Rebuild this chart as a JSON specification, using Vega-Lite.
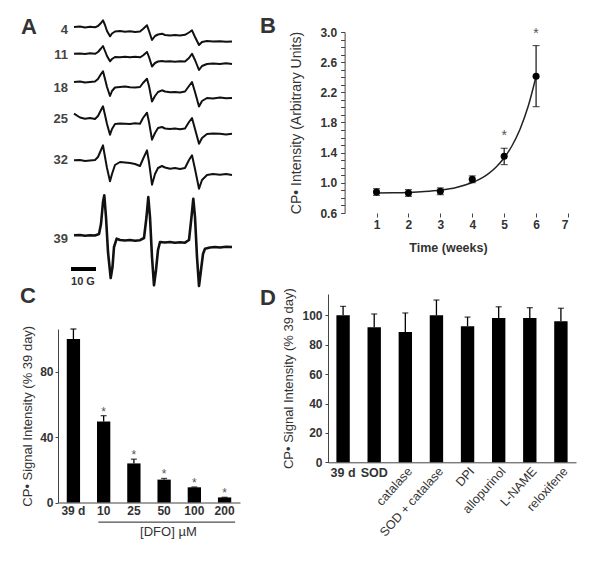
{
"$schema": "https://vega.github.io/schema/vega-lite/v6.json",
"background": "white",
"padding": {"left": 20, "top": 15, "right": 5, "bottom": 5},
"config": {
  "font": "Liberation Sans",
  "view": {"stroke": null},
  "axis": {"labelFont": "Liberation Sans", "labelFontWeight": "bold", "labelFontSize": 12, "labelColor": "#333", "titleFont": "Liberation Sans", "titleFontWeight": "normal", "titleFontSize": 13, "titleColor": "#333", "domainColor": "#444", "tickColor": "#444", "grid": false, "labelOverlap": false},
  "title": {"anchor": "start", "frame": "group", "fontSize": 22, "fontWeight": "bold", "color": "#333", "baseline": "alphabetic"},
  "text": {"font": "Liberation Sans"}
},
"spacing": 20,
"hconcat": [
 {"spacing": -3, "vconcat": [
  {"width": 182, "height": 250,
   "title": {"text": "A", "dx": -37, "offset": -3, "dy": 17},
   "encoding": {
     "x": {"field": "g", "type": "quantitative", "scale": {"domain": [-6.4, 66.4], "nice": false, "zero": false}, "axis": null},
     "y": {"field": "v", "type": "quantitative", "scale": {"domain": [20, 270], "nice": false, "zero": false}, "axis": null}
   },
   "layer": [
    {"data": {"values": [
{"day":"4","g":0,"v":275},{"day":"4","g":2.4,"v":275.5},{"day":"4","g":4.4,"v":274.5},{"day":"4","g":6.4,"v":275.2},{"day":"4","g":8.4,"v":274.7},{"day":"4","g":9.6,"v":276},{"day":"4","g":10.8,"v":279},{"day":"4","g":11.6,"v":281.7},{"day":"4","g":12.4,"v":277},{"day":"4","g":13.2,"v":271},{"day":"4","g":14.4,"v":265.7},{"day":"4","g":15.2,"v":268.5},{"day":"4","g":16.4,"v":270.5},{"day":"4","g":18.4,"v":271},{"day":"4","g":20.4,"v":270.2},{"day":"4","g":22.4,"v":270.8},{"day":"4","g":24.4,"v":270},{"day":"4","g":26.4,"v":270.5},{"day":"4","g":27.6,"v":273},{"day":"4","g":29.2,"v":276.7},{"day":"4","g":30,"v":271},{"day":"4","g":31.2,"v":262},{"day":"4","g":32.4,"v":266},{"day":"4","g":33.6,"v":267.5},{"day":"4","g":35.2,"v":268.3},{"day":"4","g":36.4,"v":267},{"day":"4","g":38.4,"v":266.5},{"day":"4","g":40.4,"v":267},{"day":"4","g":42.4,"v":266.5},{"day":"4","g":44.4,"v":267.2},{"day":"4","g":46,"v":269.5},{"day":"4","g":47.2,"v":271.7},{"day":"4","g":48.4,"v":265},{"day":"4","g":50,"v":257},{"day":"4","g":51.2,"v":260},{"day":"4","g":53.2,"v":261},{"day":"4","g":55.6,"v":260.5},{"day":"4","g":58.4,"v":260.8},{"day":"4","g":60.8,"v":260.2},{"day":"4","g":63.2,"v":260.5},
{"day":"11","g":0,"v":248.3},{"day":"11","g":2.4,"v":248.5},{"day":"11","g":4.4,"v":248},{"day":"11","g":6.4,"v":248.7},{"day":"11","g":8.4,"v":248.2},{"day":"11","g":9.6,"v":250},{"day":"11","g":10.8,"v":253.5},{"day":"11","g":11.6,"v":256},{"day":"11","g":12.4,"v":251},{"day":"11","g":13.2,"v":246},{"day":"11","g":14.4,"v":240.7},{"day":"11","g":15.2,"v":243},{"day":"11","g":16.4,"v":245},{"day":"11","g":18.4,"v":244.7},{"day":"11","g":20.4,"v":245.3},{"day":"11","g":22.4,"v":244.8},{"day":"11","g":24.4,"v":245.2},{"day":"11","g":26.4,"v":244.7},{"day":"11","g":27.6,"v":246.5},{"day":"11","g":29.2,"v":250},{"day":"11","g":30,"v":245},{"day":"11","g":31.2,"v":235.5},{"day":"11","g":32.4,"v":239},{"day":"11","g":33.6,"v":240.5},{"day":"11","g":35.2,"v":241},{"day":"11","g":36.4,"v":240.5},{"day":"11","g":38.4,"v":240.8},{"day":"11","g":40.4,"v":240.2},{"day":"11","g":42.4,"v":240.7},{"day":"11","g":44.4,"v":240.5},{"day":"11","g":46,"v":244},{"day":"11","g":47.2,"v":248.3},{"day":"11","g":48.4,"v":242},{"day":"11","g":50,"v":232},{"day":"11","g":51.2,"v":236},{"day":"11","g":53.2,"v":238},{"day":"11","g":55.6,"v":238.5},{"day":"11","g":58.4,"v":238},{"day":"11","g":60.8,"v":238.7},{"day":"11","g":63.2,"v":238},
{"day":"18","g":0,"v":220},{"day":"18","g":2.4,"v":220.5},{"day":"18","g":4.4,"v":219.5},{"day":"18","g":6.4,"v":220},{"day":"18","g":8.4,"v":220.5},{"day":"18","g":9.6,"v":223},{"day":"18","g":10.8,"v":228},{"day":"18","g":11.6,"v":230.7},{"day":"18","g":12.4,"v":223},{"day":"18","g":13.2,"v":215},{"day":"18","g":14.4,"v":206},{"day":"18","g":15.2,"v":211},{"day":"18","g":16.4,"v":214.5},{"day":"18","g":18.4,"v":215},{"day":"18","g":20.4,"v":215.5},{"day":"18","g":22.4,"v":214.7},{"day":"18","g":24.4,"v":214.5},{"day":"18","g":26.4,"v":215},{"day":"18","g":27.6,"v":219},{"day":"18","g":29.2,"v":223.3},{"day":"18","g":30,"v":216},{"day":"18","g":31.2,"v":200.5},{"day":"18","g":32.4,"v":206},{"day":"18","g":33.6,"v":210},{"day":"18","g":35.2,"v":211.7},{"day":"18","g":36.4,"v":210.5},{"day":"18","g":38.4,"v":209.7},{"day":"18","g":40.4,"v":210},{"day":"18","g":42.4,"v":209.5},{"day":"18","g":44.4,"v":210.5},{"day":"18","g":46,"v":216},{"day":"18","g":47.2,"v":220},{"day":"18","g":48.4,"v":210},{"day":"18","g":50,"v":195.5},{"day":"18","g":51.2,"v":201},{"day":"18","g":53.2,"v":204},{"day":"18","g":55.6,"v":203.5},{"day":"18","g":58.4,"v":204.5},{"day":"18","g":60.8,"v":203.7},{"day":"18","g":63.2,"v":204},
{"day":"25","g":0,"v":188.3},{"day":"25","g":2.4,"v":184.5},{"day":"25","g":4.4,"v":183.3},{"day":"25","g":6.4,"v":184},{"day":"25","g":8.4,"v":183},{"day":"25","g":9.6,"v":186},{"day":"25","g":10.8,"v":192},{"day":"25","g":11.6,"v":195.7},{"day":"25","g":12.4,"v":187},{"day":"25","g":13.2,"v":178},{"day":"25","g":14.4,"v":167.3},{"day":"25","g":15.2,"v":173},{"day":"25","g":16.4,"v":178},{"day":"25","g":18.4,"v":178.5},{"day":"25","g":20.4,"v":178.3},{"day":"25","g":22.4,"v":178},{"day":"25","g":24.4,"v":178.7},{"day":"25","g":26.4,"v":178.3},{"day":"25","g":27.6,"v":184},{"day":"25","g":29.2,"v":189.3},{"day":"25","g":30,"v":180},{"day":"25","g":31.2,"v":162.3},{"day":"25","g":32.4,"v":169},{"day":"25","g":33.6,"v":174},{"day":"25","g":35.2,"v":175},{"day":"25","g":36.4,"v":173.5},{"day":"25","g":38.4,"v":173},{"day":"25","g":40.4,"v":173.5},{"day":"25","g":42.4,"v":172.8},{"day":"25","g":44.4,"v":173.5},{"day":"25","g":46,"v":180},{"day":"25","g":47.2,"v":184},{"day":"25","g":48.4,"v":173},{"day":"25","g":50,"v":158.3},{"day":"25","g":51.2,"v":164},{"day":"25","g":53.2,"v":168},{"day":"25","g":55.6,"v":168.5},{"day":"25","g":58.4,"v":168.3},{"day":"25","g":60.8,"v":167.5},{"day":"25","g":63.2,"v":168.3},
{"day":"32","g":0,"v":141.7},{"day":"32","g":2.4,"v":142},{"day":"32","g":4.4,"v":141},{"day":"32","g":6.4,"v":141.5},{"day":"32","g":8.4,"v":142},{"day":"32","g":9.6,"v":145},{"day":"32","g":10.8,"v":152},{"day":"32","g":11.6,"v":156.7},{"day":"32","g":12.4,"v":145},{"day":"32","g":13.2,"v":134},{"day":"32","g":14.4,"v":120.7},{"day":"32","g":15.2,"v":128},{"day":"32","g":16.4,"v":137},{"day":"32","g":18.4,"v":140},{"day":"32","g":20.4,"v":139.5},{"day":"32","g":22.4,"v":139},{"day":"32","g":24.4,"v":138},{"day":"32","g":26.4,"v":136},{"day":"32","g":27.6,"v":143},{"day":"32","g":29.2,"v":151.7},{"day":"32","g":30,"v":140},{"day":"32","g":31.2,"v":117.3},{"day":"32","g":32.4,"v":128},{"day":"32","g":33.6,"v":134},{"day":"32","g":35.2,"v":136},{"day":"32","g":36.4,"v":134.5},{"day":"32","g":38.4,"v":133.3},{"day":"32","g":40.4,"v":134},{"day":"32","g":42.4,"v":133},{"day":"32","g":44.4,"v":134},{"day":"32","g":46,"v":142},{"day":"32","g":47.2,"v":146.7},{"day":"32","g":48.4,"v":133},{"day":"32","g":50,"v":113.3},{"day":"32","g":51.2,"v":122},{"day":"32","g":53.2,"v":127},{"day":"32","g":55.6,"v":128},{"day":"32","g":58.4,"v":127.3},{"day":"32","g":60.8,"v":128},{"day":"32","g":63.2,"v":127},
{"day":"39","g":0,"v":66.7},{"day":"39","g":2.4,"v":67},{"day":"39","g":4.4,"v":66.3},{"day":"39","g":6.4,"v":66.8},{"day":"39","g":8.4,"v":66.5},{"day":"39","g":10,"v":68},{"day":"39","g":10.8,"v":78},{"day":"39","g":11.6,"v":100},{"day":"39","g":12.12,"v":106.7},{"day":"39","g":12.8,"v":85},{"day":"39","g":13.6,"v":50},{"day":"39","g":14.68,"v":24},{"day":"39","g":15.4,"v":35},{"day":"39","g":16,"v":55},{"day":"39","g":17.08,"v":63.3},{"day":"39","g":18.4,"v":62},{"day":"39","g":20.4,"v":61.5},{"day":"39","g":22.4,"v":62},{"day":"39","g":24.4,"v":61.3},{"day":"39","g":26.4,"v":61.8},{"day":"39","g":28,"v":64},{"day":"39","g":29,"v":85},{"day":"39","g":29.72,"v":105},{"day":"39","g":30.4,"v":85},{"day":"39","g":31.2,"v":45},{"day":"39","g":32,"v":16.7},{"day":"39","g":32.8,"v":32},{"day":"39","g":33.6,"v":52},{"day":"39","g":34.4,"v":60},{"day":"39","g":36.4,"v":59.5},{"day":"39","g":38.4,"v":60},{"day":"39","g":40.4,"v":59.2},{"day":"39","g":42.4,"v":59.7},{"day":"39","g":44.4,"v":59.3},{"day":"39","g":46,"v":62},{"day":"39","g":47,"v":85},{"day":"39","g":47.72,"v":103.3},{"day":"39","g":48.4,"v":85},{"day":"39","g":49.2,"v":45},{"day":"39","g":50,"v":16},{"day":"39","g":50.8,"v":32},{"day":"39","g":51.6,"v":48},{"day":"39","g":52.4,"v":53.3},{"day":"39","g":54.4,"v":54.5},{"day":"39","g":56.4,"v":55},{"day":"39","g":58.4,"v":54.5},{"day":"39","g":60.8,"v":55.2},{"day":"39","g":63.2,"v":55}
     ]},
     "mark": {"type": "line", "color": "#111", "strokeJoin": "round"},
     "encoding": {"detail": {"field": "day", "type": "nominal"},
                  "strokeWidth": {"condition": {"test": "datum.day == '39'", "value": 2.6}, "value": 2}}},
    {"data": {"values": [
      {"g": -2.4, "v": 272, "label": "4"}, {"g": -2.4, "v": 247, "label": "11"}, {"g": -2.4, "v": 214, "label": "18"},
      {"g": -2.4, "v": 183, "label": "25"}, {"g": -2.4, "v": 142, "label": "32"}, {"g": -2.4, "v": 63, "label": "39"}]},
     "mark": {"type": "text", "align": "right", "baseline": "middle", "fontSize": 13, "fontWeight": "bold", "color": "#444"},
     "encoding": {"text": {"field": "label"}}},
    {"data": {"values": [{"g": -1.2, "g2": 8.8, "v": 33}]},
     "mark": {"type": "rule", "color": "#000", "strokeWidth": 4},
     "encoding": {"x2": {"field": "g2"}}},
    {"data": {"values": [{"g": 3.6, "v": 20, "label": "10 G"}]},
     "mark": {"type": "text", "align": "center", "baseline": "middle", "fontSize": 11, "fontWeight": "bold", "color": "#333"},
     "encoding": {"text": {"field": "label"}}}
   ]
  },
  {"width": 182, "height": 173.5,
   "title": {"text": "C", "dx": -38, "offset": 21.5, "dy": 4.5},
   "data": {"values": [
     {"cond": "39 d", "mean": 100, "hi": 106.1, "sig": ""},
     {"cond": "10", "mean": 49.6, "hi": 53.1, "sig": "*"},
     {"cond": "25", "mean": 23.9, "hi": 26.5, "sig": "*"},
     {"cond": "50", "mean": 14, "hi": 14.7, "sig": "*"},
     {"cond": "100", "mean": 9.3, "hi": 9.5, "sig": "*"},
     {"cond": "200", "mean": 3.1, "hi": 3.2, "sig": "*"}]},
   "resolve": {"scale": {"x": "independent"}},
   "layer": [
    {"encoding": {
       "x": {"field": "cond", "type": "nominal", "sort": null, "scale": {"paddingInner": 0.56, "paddingOuter": 0.29},
             "axis": {"labelAngle": 0, "ticks": false, "title": null, "labelPadding": 3}},
       "y": {"field": "mean", "type": "quantitative", "scale": {"domain": [0, 106.1], "nice": false},
             "axis": {"values": [0, 20, 40, 60, 80, 100], "tickSize": 3, "labelPadding": 2, "title": "CP• Signal Intensity (% 39 day)", "titlePadding": 5}}
     },
     "layer": [
       {"mark": {"type": "bar", "color": "#000"}},
       {"mark": {"type": "rule", "color": "#000", "strokeWidth": 1.3}, "encoding": {"y2": {"field": "hi"}}},
       {"mark": {"type": "tick", "orient": "horizontal", "size": 6, "thickness": 1.3, "color": "#000"}, "encoding": {"y": {"field": "hi", "type": "quantitative"}}},
       {"transform": [{"filter": "datum.sig != ''"}],
        "mark": {"type": "text", "baseline": "alphabetic", "fontSize": 12, "color": "#555"},
        "encoding": {"y": {"field": "hi", "type": "quantitative"}, "text": {"field": "sig"}}}
     ]},
    {"data": {"values": [{}]},
     "mark": {"type": "rule", "color": "#222", "strokeWidth": 1},
     "encoding": {"x": {"datum": 1.33, "type": "quantitative", "scale": {"domain": [0, 6], "nice": false, "zero": false}, "axis": null},
                  "x2": {"datum": 5.84}, "y": {"datum": -12}}},
    {"data": {"values": [{"label": "[DFO] µM"}]},
     "mark": {"type": "text", "align": "center", "baseline": "middle", "fontSize": 13, "color": "#333"},
     "encoding": {"x": {"datum": 3.64, "type": "quantitative", "scale": {"domain": [0, 6], "nice": false, "zero": false}, "axis": null},
                  "y": {"datum": -18.2}, "text": {"field": "label"}}}
   ]
  }
 ]},
 {"spacing": 33, "vconcat": [
  {"width": 240, "height": 181,
   "title": {"text": "B", "dx": -68, "offset": -3, "dy": 9.3},
   "data": {"values": [
     {"week": 1, "mean": 0.878, "lo": 0.833, "hi": 0.923, "sig": ""},
     {"week": 2, "mean": 0.865, "lo": 0.82, "hi": 0.91, "sig": ""},
     {"week": 3, "mean": 0.888, "lo": 0.843, "hi": 0.933, "sig": ""},
     {"week": 4, "mean": 1.047, "lo": 1.002, "hi": 1.092, "sig": ""},
     {"week": 5, "mean": 1.352, "lo": 1.242, "hi": 1.458, "sig": "*"},
     {"week": 6, "mean": 2.413, "lo": 2.01, "hi": 2.82, "sig": "*"}]},
   "encoding": {
     "x": {"field": "week", "type": "quantitative", "scale": {"domain": [-0.52, 7], "nice": false, "zero": false},
           "axis": {"values": [1, 2, 3, 4, 5, 6, 7], "domain": false, "tickSize": 4, "labelPadding": 2, "title": "Time (weeks)", "titleFontWeight": "bold", "titleFontSize": 12.5, "titlePadding": 11}},
     "y": {"field": "mean", "type": "quantitative", "scale": {"domain": [0.6, 3.0], "nice": false, "zero": false},
           "axis": {"values": [0.6,0.7,0.8,0.9,1.0,1.1,1.2,1.3,1.4,1.5,1.6,1.7,1.8,1.9,2.0,2.1,2.2,2.3,2.4,2.5,2.6,2.7,2.8,2.9,3.0],
                    "labelExpr": "round(datum.value*10-6) % 4 == 0 ? format(datum.value, '.1f') : ''",
                    "tickSize": 4, "offset": -16.6, "labelPadding": 4, "title": "CP• Intensity (Arbitrary Units)", "titleFontSize": 14, "titlePadding": 16}}
   },
   "layer": [
     {"data": {"values": [{}]}, "mark": {"type": "rule", "color": "#444"},
      "encoding": {"x": {"datum": 0, "type": "quantitative"}, "x2": {"datum": 7}, "y": {"datum": 0.6, "type": "quantitative"}}},
     {"data": {"values": [
       {"week": 1, "mean": 0.864}, {"week": 1.5, "mean": 0.867}, {"week": 2, "mean": 0.873}, {"week": 2.5, "mean": 0.884},
       {"week": 3, "mean": 0.904}, {"week": 3.5, "mean": 0.939}, {"week": 4, "mean": 1.004}, {"week": 4.25, "mean": 1.053},
       {"week": 4.5, "mean": 1.12}, {"week": 4.75, "mean": 1.21}, {"week": 5, "mean": 1.332}, {"week": 5.25, "mean": 1.495},
       {"week": 5.5, "mean": 1.715}, {"week": 5.75, "mean": 2.011}, {"week": 6, "mean": 2.41}]},
      "mark": {"type": "line", "color": "#222", "strokeWidth": 1.5, "interpolate": "monotone"}},
     {"mark": {"type": "rule", "color": "#111", "strokeWidth": 1.2}, "encoding": {"y": {"field": "lo", "type": "quantitative"}, "y2": {"field": "hi"}}},
     {"mark": {"type": "tick", "orient": "horizontal", "size": 7, "thickness": 1.2, "color": "#111"}, "encoding": {"y": {"field": "lo", "type": "quantitative"}}},
     {"mark": {"type": "tick", "orient": "horizontal", "size": 7, "thickness": 1.2, "color": "#111"}, "encoding": {"y": {"field": "hi", "type": "quantitative"}}},
     {"mark": {"type": "circle", "size": 50, "color": "#000", "opacity": 1}},
     {"transform": [{"filter": "datum.sig != ''"}],
      "mark": {"type": "text", "baseline": "alphabetic", "dy": -8, "fontSize": 14, "color": "#555"},
      "encoding": {"y": {"field": "hi", "type": "quantitative"}, "text": {"field": "sig"}}}
   ]
  },
  {"width": 248, "height": 168.3,
   "title": {"text": "D", "dx": -68, "offset": -8, "dy": 14.7},
   "data": {"values": [
     {"cond": "39 d", "mean": 100, "hi": 106.1},
     {"cond": "SOD", "mean": 91.8, "hi": 100.9},
     {"cond": "catalase", "mean": 88.6, "hi": 101.6},
     {"cond": "SOD + catalase", "mean": 100, "hi": 110.4},
     {"cond": "DPI", "mean": 92.5, "hi": 98.8},
     {"cond": "allopurinol", "mean": 98.2, "hi": 105.8},
     {"cond": "L-NAME", "mean": 98.2, "hi": 105.2},
     {"cond": "reloxifene", "mean": 95.9, "hi": 104.8}]},
   "encoding": {
     "x": {"field": "cond", "type": "nominal", "sort": null, "scale": {"paddingInner": 0.57, "paddingOuter": 0.27},
           "axis": {"labels": false, "ticks": false, "title": null}},
     "y": {"field": "mean", "type": "quantitative", "scale": {"domain": [0, 114.5], "nice": false},
           "axis": {"values": [0, 20, 40, 60, 80, 100], "tickSize": 3, "labelPadding": 3, "title": "CP• Signal Intensity (% 39 day)", "titlePadding": 6}}
   },
   "layer": [
     {"mark": {"type": "bar", "color": "#000"}},
     {"mark": {"type": "rule", "color": "#000", "strokeWidth": 1.3}, "encoding": {"y2": {"field": "hi"}}},
     {"mark": {"type": "tick", "orient": "horizontal", "size": 6, "thickness": 1.3, "color": "#000"}, "encoding": {"y": {"field": "hi", "type": "quantitative"}}},
     {"transform": [{"filter": "datum.cond == '39 d' || datum.cond == 'SOD'"}],
      "mark": {"type": "text", "baseline": "middle", "align": "center", "dy": 11, "fontSize": 12.5, "fontWeight": "bold", "color": "#333"},
      "encoding": {"y": {"datum": 0, "type": "quantitative"}, "text": {"field": "cond"}}},
     {"transform": [{"filter": "datum.cond != '39 d' && datum.cond != 'SOD'"}],
      "mark": {"type": "text", "baseline": "middle", "align": "right", "angle": 312, "dx": -2, "dy": 8, "fontSize": 12.5, "color": "#333"},
      "encoding": {"y": {"datum": 0, "type": "quantitative"}, "text": {"field": "cond"}}}
   ]
  }
 ]}
]
}
